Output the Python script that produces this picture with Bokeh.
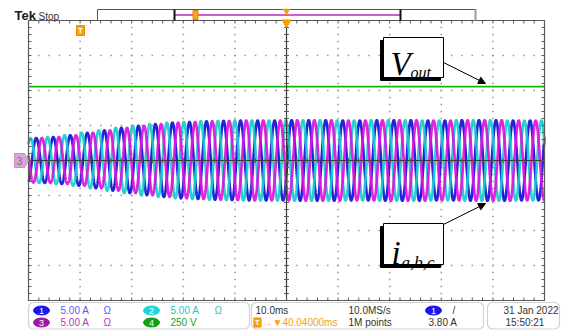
import numpy as np
from bokeh.plotting import figure
from bokeh.models import Range1d, BoxAnnotation, Arrow, NormalHead
from bokeh.core.properties import value
from bokeh.embed import file_html
from bokeh.resources import INLINE

# ---------------- data ----------------
time_per_div_ms = 10.0
n_hdiv = 10
n_vdiv = 8
period_ms = 3.3                      # phase-current period
peak_time_ms = {"ch1": -48.5, "ch2": -49.6, "ch3": -47.4}   # first positive peak
# per-cycle current amplitude (divisions), left to right
current_amp_div = [0.63, 0.64, 0.67, 0.72, 0.79, 0.86, 0.93, 0.99, 1.04, 1.08,
                   1.10, 1.12, 1.13, 1.14, 1.14, 1.14, 1.15, 1.15, 1.15, 1.14,
                   1.14, 1.15, 1.15, 1.15, 1.14, 1.14, 1.15, 1.15, 1.15, 1.14,
                   1.14, 1.14, 1.14]
vout_time_ms = [-50.0, 50.0]
vout_level_div = [2.11, 2.11]

channel_colors = {"ch1": "#1010d8", "ch2": "#18cccc", "ch3": "#dc14dc", "ch4": "#14b414"}

# ---------------- geometry helpers (screen px -> data) ----------------
PX0, PY0 = 286.0, 160.0
SX = 51.6 / time_per_div_ms
SY = 35.0


def X(px):
    return (px - PX0) / SX


def Y(py):
    return (PY0 - py) / SY


W, H = 568, 330
p = figure(width=W, height=H, output_backend="svg", toolbar_location=None,
           x_range=Range1d(X(0), X(W)), y_range=Range1d(Y(H), Y(0)),
           min_border=0, x_axis_location=None, y_axis_location=None)
p.outline_line_color = None
p.grid.visible = False
p.background_fill_color = "white"

FONT = value("Liberation Sans")
SERIF = value("Liberation Serif")

half_t = n_hdiv / 2 * time_per_div_ms
half_v = n_vdiv / 2

# ---------------- graticule dots ----------------
dx, dy = [], []
for k in range(1, n_hdiv):
    xv = -half_t + k * time_per_div_ms
    if abs(xv) < 1e-9:
        continue
    for yv in np.arange(-half_v, half_v + 1e-6, 0.2):
        dx.append(xv); dy.append(yv)
for k in range(1, n_vdiv):
    yv = -half_v + k
    if yv == 0:
        continue
    for xv in np.arange(-half_t, half_t + 1e-6, time_per_div_ms / 5):
        dx.append(xv); dy.append(yv)
p.scatter(dx, dy, marker="square", size=1.6, color="#9a9a9a", line_color=None)

# ---------------- traces ----------------
t = np.linspace(-half_t, half_t, 8000)
for ch in ["ch1", "ch2", "ch3"]:
    u = (t - peak_time_ms[ch]) / period_ms
    idx = np.clip(np.floor(u + 0.25).astype(int) + 1, 0, len(current_amp_div) - 1)
    amp = np.array(current_amp_div)[idx]
    yv = amp * np.cos(2 * np.pi * u)
    p.line(t, yv, color=channel_colors[ch], line_width=2.7, line_alpha=0.92)

p.line(vout_time_ms, vout_level_div, color=channel_colors["ch4"], line_width=1.6)

# ---------------- border, crosshair, ticks ----------------
gcol = "#5a5a5a"
p.quad(left=-half_t, right=half_t, bottom=-half_v, top=half_v,
       fill_color=None, line_color=gcol, line_width=1.2)
p.segment(x0=[-half_t], y0=[0], x1=[half_t], y1=[0], line_color="#3a3a3a", line_width=1.2)
p.segment(x0=[0], y0=[-half_v], x1=[0], y1=[half_v], line_color="#3a3a3a", line_width=1.2)
xs = np.arange(-half_t, half_t + 1e-6, time_per_div_ms / 5)
ys = np.arange(-half_v, half_v + 1e-6, 0.2)
tk = 3.0
p.segment(x0=xs, y0=half_v, x1=xs, y1=half_v - tk / SY, line_color=gcol)
p.segment(x0=xs, y0=-half_v, x1=xs, y1=-half_v + tk / SY, line_color=gcol)
p.segment(x0=xs, y0=-2.5 / SY, x1=xs, y1=2.5 / SY, line_color=gcol)
p.segment(x0=-half_t, y0=ys, x1=-half_t + tk / SX, y1=ys, line_color=gcol)
p.segment(x0=half_t, y0=ys, x1=half_t - tk / SX, y1=ys, line_color=gcol)
p.segment(x0=-2.5 / SX, y0=ys, x1=2.5 / SX, y1=ys, line_color=gcol)

# ---------------- top status bar ----------------
p.text(x=[X(14)], y=[Y(15)], text=["Tek"], text_font=FONT, text_font_style="bold",
       text_font_size="13px", text_color="#1a1a1a", text_baseline="middle")
p.text(x=[X(38)], y=[Y(15.5)], text=["Stop"], text_font=FONT, text_font_size="10px",
       text_color="#333333", text_baseline="middle")
p.quad(left=X(97), right=X(475), top=Y(9), bottom=Y(20), fill_color="white",
       line_color="#555555", line_width=1)
p.segment(x0=[X(475)], y0=[Y(9)], x1=[X(475)], y1=[Y(20)], line_color="#9a9a9a", line_width=2)
p.segment(x0=[X(174)], y0=[Y(14.5)], x1=[X(400)], y1=[Y(14.5)], line_color="#cc5fcc", line_width=2)
p.segment(x0=[X(174), X(400)], y0=[Y(9), Y(9)], x1=[X(174), X(400)], y1=[Y(20), Y(20)],
          line_color="#111111", line_width=2)
p.rect(x=[X(195)], y=[Y(14.5)], width=5, height=9, width_units="screen", height_units="screen",
       fill_color="#ffa31a", line_color="#e08800")
p.scatter(x=[X(286)], y=[Y(10.5)], marker="inverted_triangle", size=6, color="#ff9a00")
p.scatter(x=[X(286)], y=[Y(22)], marker="inverted_triangle", size=9, color="#ff9a00")

# trigger position marker "T"
p.rect(x=[X(80)], y=[Y(30)], width=8, height=10, width_units="screen", height_units="screen",
       fill_color="#ff9f12", line_color="#e88a00")
p.text(x=[X(80)], y=[Y(30)], text=["T"], text_font=FONT, text_font_style="bold",
       text_font_size="8px", text_color="white", text_align="center", text_baseline="middle")

# channel 3 ground marker
p.patch(x=[X(14), X(24), X(28), X(24), X(14)], y=[Y(153), Y(153), Y(160), Y(167), Y(167)],
        fill_color="#d9a4d9", line_color="#c890c8")
p.text(x=[X(19)], y=[Y(160)], text=["3"], text_font=FONT, text_font_size="10px",
       text_color="#777777", text_align="center", text_baseline="middle")

# ---------------- annotation boxes ----------------
for (l, r, tp, bt) in [(383, 443, 37, 77), (383, 443, 223, 264)]:
    p.quad(left=X(l - 3), right=X(r - 3), top=Y(tp + 3), bottom=Y(bt + 3),
           fill_color="black", line_color="black")
    p.quad(left=X(l), right=X(r), top=Y(tp), bottom=Y(bt),
           fill_color="white", line_color="black", line_width=1)

p.text(x=[X(390)], y=[Y(63)], text=["V"], text_font=SERIF, text_font_style="italic",
       text_font_size="33px", text_color="black", text_baseline="alphabetic")
p.text(x=[X(410)], y=[Y(72)], text=["out"], text_font=SERIF, text_font_style="italic",
       text_font_size="16px", text_color="black", text_baseline="alphabetic")
p.text(x=[X(391)], y=[Y(252)], text=["i"], text_font=SERIF, text_font_style="italic",
       text_font_size="33px", text_color="black", text_baseline="alphabetic")
p.text(x=[X(401)], y=[Y(262)], text=["a,b,c"], text_font=SERIF, text_font_style="italic",
       text_font_size="17px", text_color="black", text_baseline="alphabetic")

p.add_layout(Arrow(x_start=X(443), y_start=Y(62), x_end=X(485), y_end=Y(83),
                   line_width=1, end=NormalHead(size=7, fill_color="black", line_color="black")))
p.add_layout(Arrow(x_start=X(443), y_start=Y(224), x_end=X(485), y_end=Y(203),
                   line_width=1, end=NormalHead(size=7, fill_color="black", line_color="black")))

# ---------------- bottom info bar ----------------
for (l, r) in [(28, 249), (251, 483), (487, 559)]:
    p.add_layout(BoxAnnotation(left=X(l), right=X(r), top=Y(302), bottom=Y(328.5),
                               fill_alpha=0, line_color="#6e6e6e", line_width=1.2,
                               border_radius=5))

r1, r2 = 310, 322
fs = "10px"
badges = [(41, r1, "1", "#1818ee"), (41, r2, "3", "#a0189f"),
          (151, r1, "2", "#22d4d4"), (151, r2, "4", "#13a013"),
          (433, r1, "1", "#1818ee")]
for (bx, by, bt, bc) in badges:
    p.ellipse(x=[X(bx)], y=[Y(by)], width=16, height=9, width_units="screen",
              height_units="screen", fill_color=bc, line_color=bc)
    p.text(x=[X(bx)], y=[Y(by)], text=[bt], text_font=FONT, text_font_size="9px",
           text_color="white", text_align="center", text_baseline="middle")

row_texts = [
    (60, r1, "5.00 A", "#5a5af5"), (103, r1, "Ω", "#5a5af5"),
    (60, r2, "5.00 A", "#b03ab0"), (103, r2, "Ω", "#b03ab0"),
    (170, r1, "5.00 A", "#22c8c8"), (214, r1, "Ω", "#22c8c8"),
    (170, r2, "250 V", "#24a024"),
    (255, r1, "10.0ms", "#333333"), (348, r1, "10.0MS/s", "#333333"),
    (348, r2, "1M points", "#333333"),
    (452, r1, "/", "#333333"), (428, r2, "3.80 A", "#333333"),
    (503, r1, "31 Jan  2022", "#333333"), (505, r2, "15:50:21", "#333333"),
    (262, r2, "→▼40.04000ms", "#f5a020"),
]
for (tx, ty, tt, tc) in row_texts:
    p.text(x=[X(tx)], y=[Y(ty)], text=[tt], text_font=FONT, text_font_size=fs,
           text_color=tc, text_baseline="middle")

p.rect(x=[X(257)], y=[Y(r2)], width=7, height=9, width_units="screen", height_units="screen",
       fill_color="#ffa31a", line_color="#e88a00")
p.text(x=[X(257)], y=[Y(r2)], text=["T"], text_font=FONT, text_font_style="bold",
       text_font_size="7px", text_color="white", text_align="center", text_baseline="middle")

open("out.html", "w").write(file_html(p, INLINE))
